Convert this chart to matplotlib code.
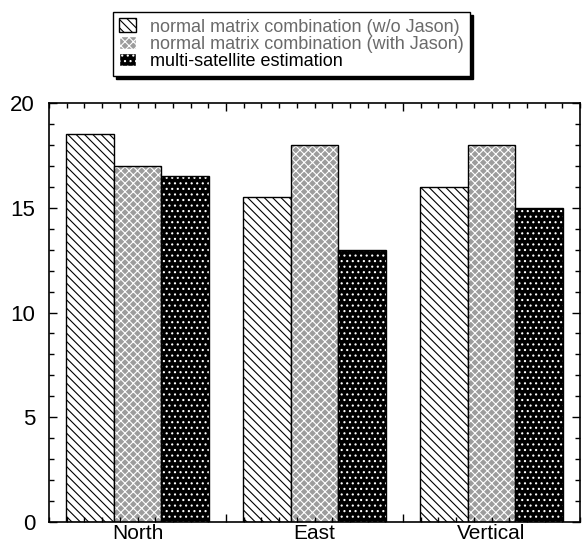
import numpy as np
import matplotlib
matplotlib.use("Agg")
import matplotlib.pyplot as plt
from matplotlib.patches import Patch
from matplotlib.ticker import MultipleLocator, FixedLocator
import matplotlib.transforms as mtransforms

plt.rcParams["font.family"] = ["Liberation Sans", "DejaVu Sans"]
plt.rcParams["hatch.linewidth"] = 0.8

# data
groups = ["North", "East", "Vertical"]
series_names = [
    "normal matrix combination (w/o Jason)",
    "normal matrix combination (with Jason)",
    "multi-satellite estimation",
]
wo_jason = [18.5, 15.5, 16.0]
with_jason = [17.0, 18.0, 18.0]
multi_sat = [16.5, 13.0, 15.0]

# styles: (facecolor, hatch, hatch colour)
styles = [
    ("white", "\\\\\\\\", "black"),
    ("#9c9c9c", "xxxx", "white"),
    ("black", "...", "white"),
]
text_colors = ["#6a6a6a", "#6a6a6a", "black"]

fig = plt.figure(figsize=(5.82, 5.44), dpi=100)
ax = fig.add_axes([0.0842, 0.0404, 0.9124, 0.7703])

x = np.arange(len(groups))
width = 0.27
all_series = [wo_jason, with_jason, multi_sat]

for i, vals in enumerate(all_series):
    fc, hatch, hc = styles[i]
    pos = x + (i - 1) * width
    # hatch colour follows edgecolor, so draw hatch layer then black outline
    ax.bar(pos, vals, width, color=fc, edgecolor=hc, hatch=hatch, linewidth=0)
    ax.bar(pos, vals, width, fill=False, edgecolor="black", linewidth=1.0)

ax.set_xlim(-0.5, 2.5)
ax.set_ylim(0, 20)

ax.yaxis.set_major_locator(MultipleLocator(5))
ax.yaxis.set_minor_locator(MultipleLocator(1))
ax.xaxis.set_major_locator(FixedLocator([0.5, 1.5]))
ax.xaxis.set_minor_locator(MultipleLocator(0.1))
ax.set_xticklabels([])

ax.tick_params(which="both", direction="in", top=True, right=True, width=1.0)
ax.tick_params(which="major", length=6)
ax.tick_params(which="minor", length=3.5)
ax.tick_params(axis="y", labelsize=16, pad=10)
for s in ax.spines.values():
    s.set_linewidth(1.2)

# group labels sit on a baseline just above the figure's bottom edge
trans = mtransforms.blended_transform_factory(ax.transData, ax.transAxes)
for xi, g in zip(x, groups):
    ax.text(xi, -0.040, g, transform=trans, ha="center", va="baseline", fontsize=15)

handles = [Patch(facecolor=styles[i][0], edgecolor=styles[i][2], hatch=styles[i][1])
           for i in range(3)]
leg = fig.legend(handles, series_names, loc="upper left",
                 bbox_to_anchor=(113 / 582, 1 - 12 / 544),
                 fontsize=13, labelspacing=0.0, handlelength=0.9, handleheight=0.8,
                 handletextpad=0.8, borderpad=0.35, borderaxespad=0, frameon=True,
                 fancybox=False, edgecolor="black",
                 shadow={"color": "black", "alpha": 1.0})
leg.get_frame().set_linewidth(1.0)
leg.get_frame().set_alpha(1.0)
for t, c in zip(leg.get_texts(), text_colors):
    t.set_color(c)

fig.savefig("out.png", dpi=100)
